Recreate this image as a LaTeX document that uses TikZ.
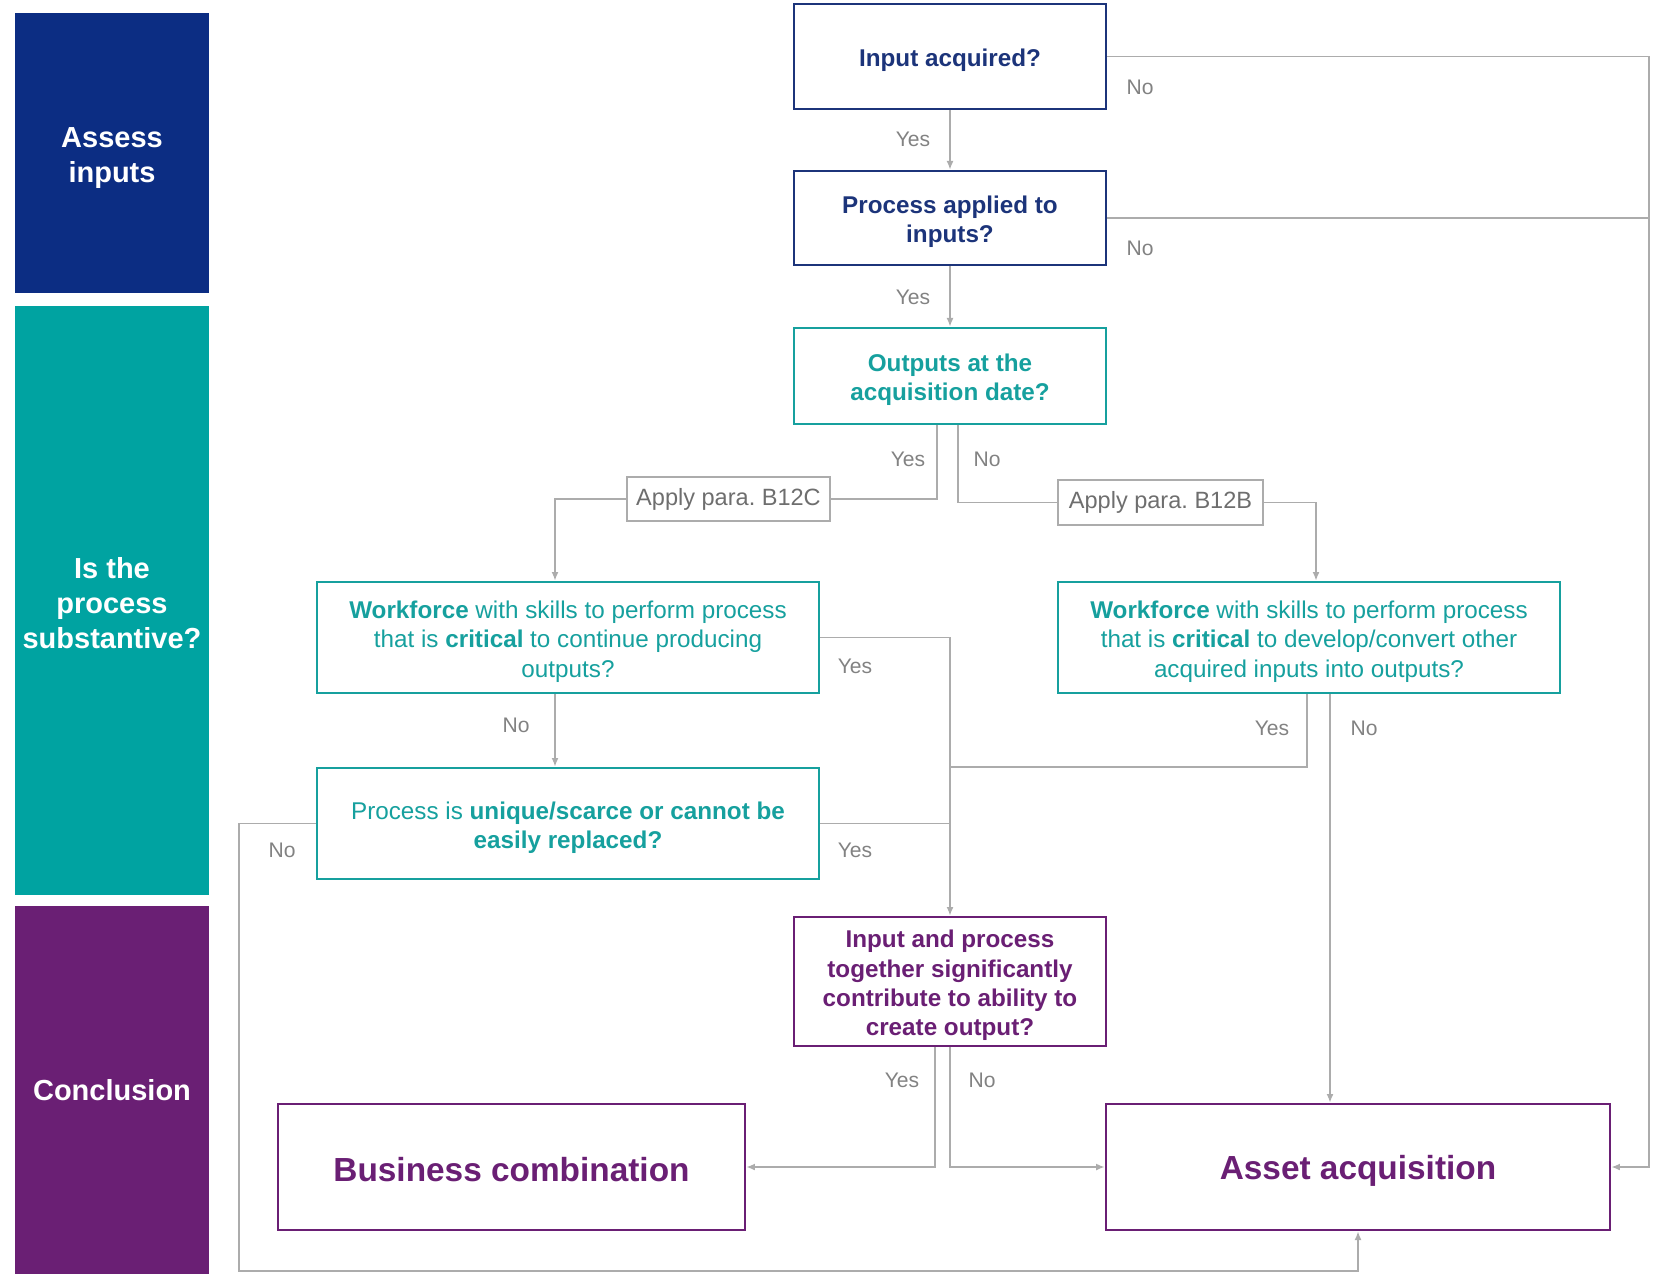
\documentclass[tikz,border=0pt]{standalone}
\usepackage{fontspec}
\setmainfont{Liberation Sans}
\usetikzlibrary{arrows.meta}
\definecolor{kblue}{RGB}{12,45,131}
\definecolor{kbluetxt}{RGB}{28,52,122}
\definecolor{kteal}{RGB}{0,163,161}
\definecolor{ktealtxt}{RGB}{22,160,158}
\definecolor{kpurple}{RGB}{106,31,116}
\definecolor{kline}{RGB}{172,172,172}
\definecolor{klabel}{RGB}{130,130,130}
\definecolor{kpara}{RGB}{110,110,110}
\newcommand{\topgap}[1][14.5pt]{\rule{0pt}{#1}}

\begin{document}
\begin{tikzpicture}[x=0.02cm, y=-0.02cm,
    bar/.style={fill=#1, text=white, font=\fontsize{16.5}{20}\selectfont\bfseries, align=center, minimum width=3.88cm, inner sep=0pt},
    qbox/.style={draw=#1, text=#1, line width=1.4pt, align=center, inner sep=0pt, font=\fontsize{13.8}{16.7}\selectfont},
    qbold/.style={qbox=#1, font=\fontsize{13.8}{16.7}\selectfont\bfseries},
    endbox/.style={qbox=kpurple, font=\fontsize{19}{22}\selectfont\bfseries, minimum height=2.52cm},
    parabox/.style={draw=kline, text=kpara, line width=1.2pt, inner sep=0pt, font=\fontsize{13.4}{15}\selectfont, minimum height=0.89cm},
    lbl/.style={text=klabel, font=\fontsize{12}{14}\selectfont},
    line/.style={draw=kline, line width=1.1pt},
    conn/.style={line, -{Latex[length=5pt, width=4pt]}}]
    \useasboundingbox (0,0) rectangle (1655,1274);

    \node[bar=kblue, minimum height=5.6cm] (assess) at (112,153) {\topgap[17pt]Assess\\inputs};
    \node[bar=kteal, minimum height=11.78cm] (subst) at (112,600.5) {\topgap[15pt]Is the\\process\\substantive?};
    \node[bar=kpurple, minimum height=7.36cm] (concl) at (112,1090) {Conclusion};

    \node[qbold=kbluetxt, minimum width=6.24cm, minimum height=2.1cm] (inp) at (950,56.5) {\topgap Input acquired?};
    \node[qbold=kbluetxt, minimum width=6.24cm, minimum height=1.88cm] (proc) at (950,218) {\topgap Process applied to\\inputs?};
    \node[qbold=ktealtxt, minimum width=6.24cm, minimum height=1.92cm] (outp) at (950,376) {\topgap Outputs at the\\acquisition date?};
    \node[parabox, minimum width=4.06cm] (b12c) at (728.5,499) {Apply para.\ B12C};
    \node[parabox, minimum width=4.1cm] (b12b) at (1160.5,502.5) {Apply para.\ B12B};
    \node[qbox=ktealtxt, minimum width=10.04cm, minimum height=2.22cm] (wfl) at (568,637.5)
        {\topgap\textbf{Workforce} with skills to perform process\\that is \textbf{critical} to continue producing\\outputs?};
    \node[qbox=ktealtxt, minimum width=10.04cm, minimum height=2.22cm] (wfr) at (1309,637.5)
        {\topgap\textbf{Workforce} with skills to perform process\\that is \textbf{critical} to develop/convert other\\acquired inputs into outputs?};
    \node[qbox=ktealtxt, minimum width=10.04cm, minimum height=2.22cm] (uniq) at (568,823.5)
        {\topgap Process is \textbf{unique/scarce or cannot be}\\\textbf{easily replaced?}};
    \node[qbold=kpurple, minimum width=6.24cm, minimum height=2.58cm] (ipt) at (950,981.5)
        {\topgap Input and process\\together significantly\\contribute to ability to\\create output?};
    \node[endbox, minimum width=9.34cm] (bc) at (511.5,1167) {\topgap[16.6pt]Business combination};
    \node[endbox, minimum width=10.08cm] (aa) at (1358,1167) {\topgap[18pt]Asset acquisition};

    \coordinate (rgt) at (1649,0);
    \coordinate (lft) at (239,1271);

    \draw[conn] (inp) -- (proc);
    \draw[conn] (inp.east) -- (inp.east -| rgt) |- (aa.east);
    \draw[line] (proc.east) -- (proc.east -| rgt);
    \draw[conn] (proc) -- (outp);
    \draw[line] ([xshift=-0.26cm]outp.south) |- (b12c.east);
    \draw[conn] (b12c.west) -| ([xshift=-0.26cm]wfl.north);
    \draw[line] ([xshift=0.16cm]outp.south) |- (b12b.west);
    \draw[conn] (b12b.east) -| ([xshift=0.14cm]wfr.north);
    \draw[conn] (wfl.east) -| (ipt.north);
    \draw[conn] ([xshift=-0.26cm]wfl.south) -- ([xshift=-0.26cm]uniq.north);
    \draw[line] ([xshift=-0.04cm]wfr.south) |- (uniq.north -| ipt.north);
    \draw[conn] ([xshift=0.42cm]wfr.south) -- ([xshift=0.42cm]wfr.south |- aa.north);
    \draw[line] (uniq.east) -- (uniq.east -| ipt.north);
    \draw[conn] (uniq.west) -| (lft) -| (aa.south);
    \draw[conn] ([xshift=-0.3cm]ipt.south) |- (bc.east);
    \draw[conn] (ipt.south) |- (aa.west);

    \node[lbl] (y1) at (913,139) {Yes};
    \node[lbl] (n1) at (1140,87) {No};
    \node[lbl] (n2) at (1140,248) {No};
    \node[lbl] (y2) at (913,297) {Yes};
    \node[lbl] (y3) at (908,459) {Yes};
    \node[lbl] (n3) at (987,459) {No};
    \node[lbl] (y4) at (855,666) {Yes};
    \node[lbl] (n4) at (516,725) {No};
    \node[lbl] (y5) at (1272,728) {Yes};
    \node[lbl] (n5) at (1364,728) {No};
    \node[lbl] (y6) at (855,850) {Yes};
    \node[lbl] (n6) at (282,850) {No};
    \node[lbl] (y7) at (902,1080) {Yes};
    \node[lbl] (n7) at (982,1080) {No};
\end{tikzpicture}
\end{document}
